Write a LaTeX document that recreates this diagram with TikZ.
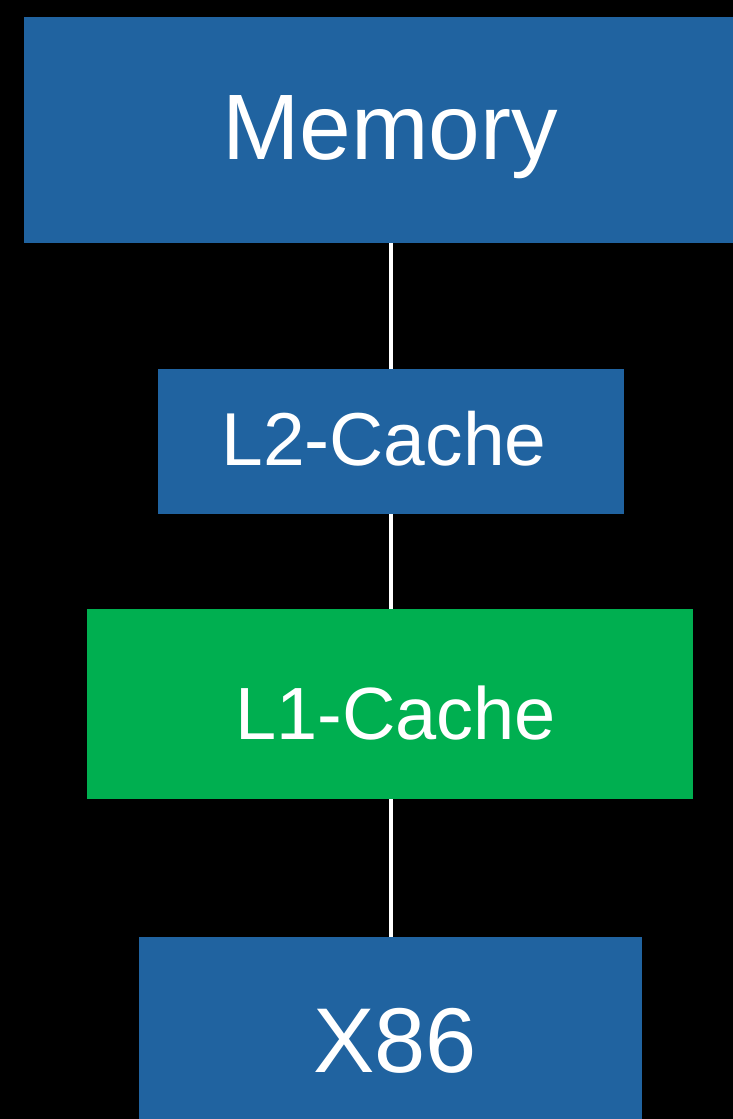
\documentclass[tikz,border=0pt]{standalone}
\usepackage{fontspec}
\setmainfont{Liberation Sans}
\definecolor{boxblue}{HTML}{2063A0}
\definecolor{boxgreen}{HTML}{00AF50}
\begin{document}
\begin{tikzpicture}[x=1pt,y=-1pt,
  boxnode/.style={draw=none,inner sep=0pt,outer sep=0pt,rectangle},
  lbl/.style={text=white,inner sep=0pt,anchor=base},
  conn/.style={draw=white,line width=4pt}]
\fill[black] (0,0) rectangle (733,1119);
\useasboundingbox (0,0) rectangle (733,1119);
\node[boxnode,fill=boxblue,minimum width=709pt,minimum height=226pt] (mem) at (378.5,130) {};
\node[boxnode,fill=boxblue,minimum width=466pt,minimum height=145pt] (l2) at (391,441.5) {};
\node[boxnode,fill=boxgreen,minimum width=606pt,minimum height=190pt] (l1) at (390,704) {};
\node[boxnode,fill=boxblue,minimum width=503pt,minimum height=182pt] (x86) at (390.5,1028) {};
\draw[conn] (l2.north) -- (l2.north |- mem.south);
\draw[conn] (l2.south) -- (l2.south |- l1.north);
\draw[conn] (l1.south -| l2.south) -- (l2.south |- x86.north);
\node[lbl,font=\fontsize{93}{100}\selectfont] (tmem) at (390,159) {Memory};
\node[lbl,font=\fontsize{75}{80}\selectfont] (tl2) at (384,465) {L2-Cache};
\node[lbl,font=\fontsize{74}{80}\selectfont] (tl1) at (395.5,739) {L1-Cache};
\node[lbl,font=\fontsize{92}{100}\selectfont] (tx86) at (395,1072) {X86};
\end{tikzpicture}
\end{document}
